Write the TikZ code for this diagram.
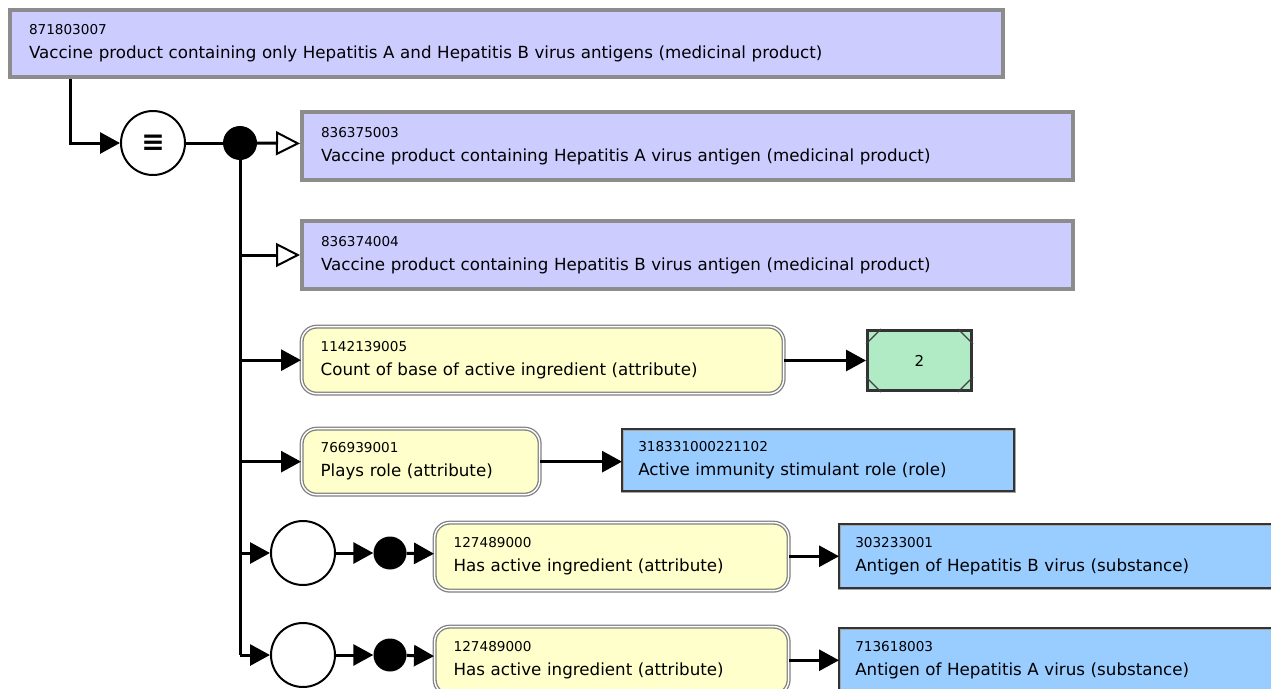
\documentclass[tikz,border=0pt]{standalone}
\usepackage{fontspec}
\setmainfont{DejaVu Sans}
\newfontfamily\diagfont{DejaVu Sans}
\definecolor{SCTlav}{HTML}{CCCCFF}
\definecolor{SCTyellow}{HTML}{FFFFCC}
\definecolor{SCTblue}{HTML}{99CCFF}
\definecolor{SCTgreen}{HTML}{B0EBC6}
\usetikzlibrary{arrows.meta,calc,positioning}
\newcommand{\sctid}[1]{{\fontsize{13.6}{15}\selectfont #1}}
\tikzset{
  sctbox/.style={rectangle,anchor=north west,align=left,inner ysep=0pt,font=\fontsize{16.7}{24}\selectfont},
  defbox/.style={sctbox,draw=black!45,line width=4pt,fill=SCTlav,inner xsep=19pt},
  attrbox/.style={sctbox,draw=black!50,double=white,double distance=1.4pt,line width=1.3pt,rounded corners=15pt,fill=SCTyellow,inner xsep=19pt},
  rolebox/.style={sctbox,draw=black!35,double=black!80,double distance=2.2pt,line width=0.5pt,fill=SCTblue,inner xsep=16pt},
  valbox/.style={rectangle,draw=black!80,line width=3pt,fill=SCTgreen,font=\fontsize{15}{15}\selectfont},
  opcircle/.style={circle,draw,line width=2pt,fill=white,minimum size=64pt,inner sep=0pt},
  conj/.style={circle,fill=black,minimum size=#1,inner sep=0pt},
  conj/.default=34pt,
  link/.style={line width=3pt},
  isa/.style={link,-{Triangle[open,length=24pt,width=24pt,fill=white,line width=2pt]}},
  attrarr/.style={link,-{Triangle[length=20pt,width=21pt]}},
}

\begin{document}
\begin{tikzpicture}[x=1pt,y=-1pt]
  \useasboundingbox (0,0) rectangle (1271,688);
  \clip (0,0) rectangle (1271,688);
  % focus concept
  \node[defbox,minimum width=993pt,minimum height=67pt,text width=955pt] (top) at (8,8) {\sctid{871803007}\\Vaccine product containing only Hepatitis A and Hepatitis B virus antigens (medicinal product)};
  \node[opcircle,font=\bfseries\fontsize{28}{28}\selectfont] (eq) at (153,143) {≡};
  \node[conj] (d0) at (240,143) {};
  % parents
  \node[defbox,minimum width=771pt,minimum height=68pt,text width=733pt] (a1) at (300,110) {\sctid{836375003}\\Vaccine product containing Hepatitis A virus antigen (medicinal product)};
  \node[defbox,minimum width=771pt,minimum height=68pt,text width=733pt] (a2) at (300,219) {\sctid{836374004}\\Vaccine product containing Hepatitis B virus antigen (medicinal product)};
  % ungrouped attributes
  \node[attrbox,minimum width=482pt,minimum height=67pt,text width=444pt] (r1) at (301,326) {\sctid{1142139005}\\Count of base of active ingredient (attribute)};
  \node[valbox,anchor=north west,minimum width=104pt,minimum height=60pt] (v1) at (866,329) {2};
  \node[attrbox,minimum width=238pt,minimum height=66pt,text width=200pt] (r2) at (301,428) {\sctid{766939001}\\Plays role (attribute)};
  \node[rolebox,minimum width=392pt,minimum height=62pt,text width=360pt] (b1) at (622,429) {\sctid{318331000221102}\\Active immunity stimulant role (role)};
  % role groups
  \node[opcircle] (g1) at (303,553) {};
  \node[conj=33pt] (d1) at (390,553) {};
  \node[attrbox,minimum width=354pt,minimum height=68pt,text width=316pt] (h1) at (434,522) {\sctid{127489000}\\Has active ingredient (attribute)};
  \node[rolebox,minimum width=460pt,minimum height=64pt,text width=428pt] (s1) at (839,524) {\sctid{303233001}\\Antigen of Hepatitis B virus (substance)};
  \node[opcircle] (g2) at (303,655) {};
  \node[conj=33pt] (d2) at (390,655) {};
  \node[attrbox,minimum width=354pt,minimum height=68pt,text width=316pt] (h2) at (434,626) {\sctid{127489000}\\Has active ingredient (attribute)};
  \node[rolebox,minimum width=460pt,minimum height=64pt,text width=428pt] (s2) at (839,628) {\sctid{713618003}\\Antigen of Hepatitis A virus (substance)};
  % corner marks of the value box
  \foreach \c/\dx/\dy in {north west/15/-15,north east/-15/-15,south west/15/15,south east/-15/15}
    \draw[line width=1.3pt,black!75] ([yshift=\dy pt]v1.\c) -- ([xshift=\dx pt]v1.\c);
  % connectors
  \draw[attrarr] ([xshift=62pt]top.south west) |- (eq);
  \draw[link] (eq) -- (d0);
  \draw[isa] (d0) -- (a1);
  \draw[link] (d0.center) -- (d0.center |- g2);
  \draw[isa] (d0.center |- a2.west) -- (a2.west);
  \draw[attrarr] (d0.center |- r1.west) -- (r1.west);
  \draw[attrarr] (d0.center |- r2.west) -- (r2.west);
  \draw[attrarr] (d0.center |- g1.west) -- (g1.west);
  \draw[attrarr] (d0.center |- g2.west) -- (g2.west);
  \draw[attrarr] (r1.east |- v1.west) -- (v1.west);
  \draw[attrarr] (r2.east) -- (r2.east -| b1.west);
  \draw[attrarr] (g1) -- (d1);
  \draw[attrarr] (d1) -- (h1);
  \draw[attrarr] (h1.east |- s1.west) -- (s1.west);
  \draw[attrarr] (g2) -- (d2);
  \draw[attrarr] (d2) -- (h2);
  \draw[attrarr] (h2.east |- s2.west) -- (s2.west);
\end{tikzpicture}
\end{document}
